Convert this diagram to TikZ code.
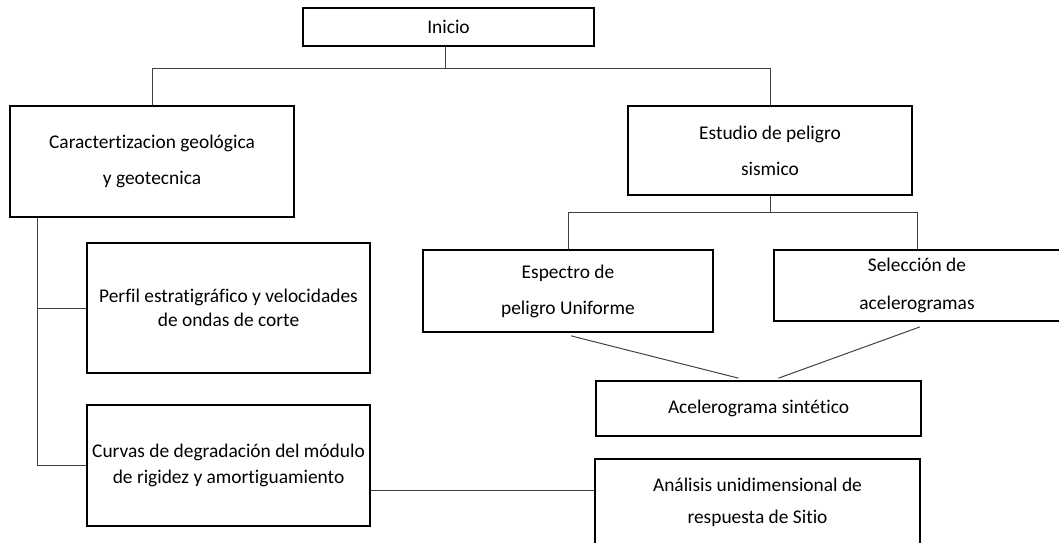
\documentclass[tikz,border=0pt]{standalone}
\usepackage{fontspec}
\setmainfont{Carlito}[Ligatures=NoCommon]
\usetikzlibrary{calc}
\newcommand{\pxunit}{0.025cm}
\newcommand{\trunkx}{28}
\newcommand{\sidedrop}{18pt}
\newcommand{\tipshift}{20}
\tikzset{
  flowbox/.style 2 args={draw=black, line width=1.2pt, fill=white,
    minimum width=#1*\pxunit, minimum height=#2*\pxunit,
    inner sep=0pt, align=center},
  link/.style={draw=black!75, line width=0.7pt},
}
\newcommand{\boxfont}[1]{\fontsize{13.8}{#1}\selectfont}

\begin{document}
\begin{tikzpicture}[x=\pxunit, y=-\pxunit, font=\boxfont{17}]
    \useasboundingbox (0,0) rectangle (1059,542);
    % top
    \node[flowbox={291}{38}] (inicio) at (448.5,27) {Inicio};
    % left column
    \node[flowbox={284}{111}, font=\boxfont{26}] (geo) at (152,161.5)
      {Caractertizacion geológica\\y geotecnica};
    \node[flowbox={283}{130}, font=\boxfont{17}] (perfil) at (228.5,308)
      {Perfil estratigráfico y velocidades\\de ondas de corte};
    \node[flowbox={283}{121}, font=\boxfont{18.4}] (curvas) at (228.5,465.5)
      {Curvas de degradación del módulo\\de rigidez y amortiguamiento};
    % right column
    \node[flowbox={284}{89}, font=\boxfont{25.5}] (peligro) at (770,150.5)
      {Estudio de peligro\\sismico};
    \node[flowbox={290}{82}, font=\boxfont{25.5}] (espectro) at (568,291)
      {Espectro de\\peligro Uniforme};
    \node[flowbox={286}{71}, font=\boxfont{27.5}] (seleccion) at (917,285.5)
      {Selección de\\acelerogramas};
    \node[flowbox={325}{55}] (acel) at (758.5,408.5) {Acelerograma sintético};
    \node[flowbox={325}{86}, font=\boxfont{22.7}] (analisis) at (757.5,502)
      {Análisis unidimensional de\\respuesta de Sitio};
    % inicio branches
    \coordinate (split) at ($(inicio.south)+(-3,22)$);
    \draw[link] (inicio.south -| split) -- (split);
    \draw[link] (split) -| (geo.north);
    \draw[link] (split) -| (peligro.north);
    % geo trunk
    \coordinate (trunk) at ($(geo.south west)+(\trunkx,0)$);
    \draw[link] (trunk) |- (curvas.west);
    \draw[link] (perfil.west) -| (trunk);
    % peligro branches
    \coordinate (fork) at ($(peligro.south)+(0,17)$);
    \draw[link] (peligro.south) -- (fork);
    \draw[link] (fork) -| (espectro.north);
    \draw[link] (fork) -| (seleccion.north);
    % into acelerograma
    \draw[link] ($(espectro.south)+(3,3)$) -- ($(acel.north)+(-\tipshift,-2)$);
    \draw[link] ($(seleccion.south)+(3,5)$) -- ($(acel.north)+(\tipshift,-2)$);
    \draw[link] ($(acel.south)+(6,0)$) -- ($(acel.south)+(6,0)$ |- analisis.north);
    % curvas to analisis
    \draw[link] ([yshift=-\sidedrop]curvas.east)
      -- ([yshift=-\sidedrop]curvas.east -| analisis.west);
\end{tikzpicture}
\end{document}
